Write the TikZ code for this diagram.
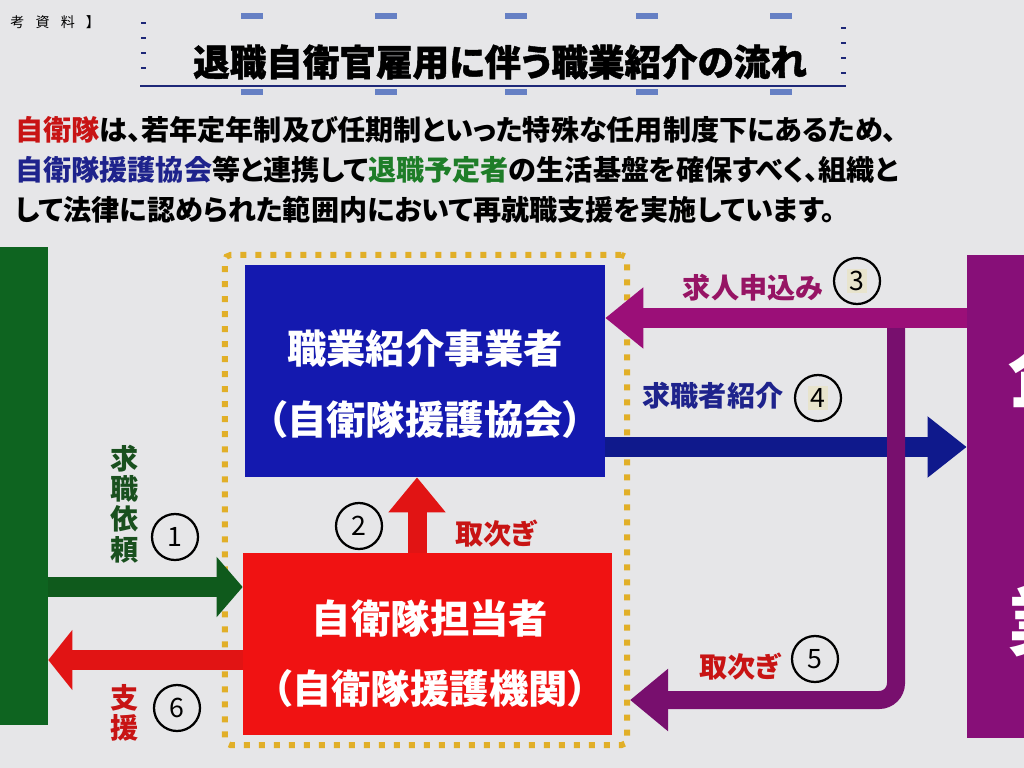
\documentclass[tikz,border=0pt]{standalone}
\usepackage{fontspec}
\setmainfont{Noto Sans CJK JP}[RawFeature=+palt]
\usetikzlibrary{arrows.meta, positioning, calc}

\definecolor{bg}{RGB}{230,230,232}
\definecolor{navy}{RGB}{30,40,120}
\definecolor{blob}{RGB}{60,95,185}
\definecolor{frameyellow}{RGB}{225,175,40}
\definecolor{boxblue}{RGB}{20,25,175}
\definecolor{boxred}{RGB}{240,18,18}
\definecolor{boxgreen}{RGB}{14,100,32}
\definecolor{boxpurple}{RGB}{135,15,120}
\definecolor{arrgreen}{RGB}{15,90,28}
\definecolor{arrred}{RGB}{225,20,20}
\definecolor{arrblue}{RGB}{15,25,140}
\definecolor{arrmagenta}{RGB}{155,15,120}
\definecolor{arrpurple}{RGB}{120,15,110}
\definecolor{txtred}{RGB}{200,20,20}
\definecolor{txtblue}{RGB}{30,35,140}
\definecolor{txtgreen}{RGB}{30,125,40}
\definecolor{lblgreen}{RGB}{25,80,30}
\definecolor{lblmagenta}{RGB}{150,20,100}
\definecolor{numtag}{RGB}{232,228,205}

\newcommand{\tagnum}[1]{{\setlength{\fboxsep}{1.5pt}\colorbox{numtag}{#1}}}

\begin{document}
\begin{tikzpicture}[x=0.025cm, y=-0.025cm,
  box/.style={rectangle, inner sep=0pt},
  boxtext/.style={text=white, align=center, font=\fontsize{28}{50}\selectfont\bfseries},
  arrow/.style={line width=0.5cm, -{Triangle[width=1.47cm,length=#1]}},
  arrow/.default=0.95cm,
  num/.style={circle, draw=black, line width=1.6pt, minimum size=1.15cm, inner sep=0pt, font=\fontsize{19}{19}\selectfont},
  lbl/.style={font=\fontsize{20}{21.5}\selectfont\bfseries, align=center},
  para/.style={anchor=west, inner sep=0pt, font=\fontsize{20}{20}\selectfont\bfseries}]

\useasboundingbox (0,0) rectangle (1024,768);
\fill[bg] (0,0) rectangle (1024,768);

% heading
\node[anchor=west, inner sep=0pt, font=\fontsize{10}{10}\selectfont] (ref) at (10,22) {考\hspace{8pt}資\hspace{8pt}料\hspace{8pt}】};
\node[font=\fontsize{26}{26}\selectfont\bfseries\addfontfeature{FakeBold=1.2}] (title) at (500,62) {退職自衛官雇用に伴う職業紹介の流れ};
\draw[navy, line width=2pt] (140,86) -- (846,86);
\foreach \x in {252,386,516,647,781} {
  \fill[blob, opacity=0.75] (\x-11,13) rectangle (\x+11,19);
  \fill[blob, opacity=0.75] (\x-11,89) rectangle (\x+11,95);
}
\foreach \y in {23,38,53,68} \fill[navy] (141,\y-1) rectangle (146,\y+1);
\foreach \y in {28,43,58,73} \fill[navy] (841,\y-1) rectangle (846,\y+1);

\node[para] (line1) at (15,130) {\textcolor{txtred}{自衛隊}は、若年定年制及び任期制といった特殊な任用制度下にあるため、};
\node[para] (line2) at (15,170) {\textcolor{txtblue}{自衛隊援護協会}等と連携して\textcolor{txtgreen}{退職予定者}の生活基盤を確保すべく、組織と};
\node[para] (line3) at (15,210) {して法律に認められた範囲内において再就職支援を実施しています。};

% boxes
\node[box, fill=boxgreen, minimum width=1.5cm, minimum height=11.95cm] (green) at (18,486) {};
\node[box, fill=boxpurple, minimum width=2.8cm, minimum height=12.08cm] (purple) at (1023,496.5) {};
\node[box, draw=frameyellow, line width=0.15cm, dash pattern=on 0.15cm off 0.225cm, rounded corners=4pt, minimum width=10.05cm, minimum height=12.25cm] (frame) at (426,500) {};
\node[box, fill=boxblue, minimum width=9cm, minimum height=5.3cm] (blue) at (425,371) {};
\node[box, fill=boxred, minimum width=9.225cm, minimum height=4.55cm] (red) at (427.5,644) {};

\node[boxtext] (bluetext) at (425,384) {職業紹介事業者\\（自衛隊援護協会）};
\node[boxtext] (redtext) at (430,654) {自衛隊担当者\\（自衛隊援護機関）};
\node[text=white, font=\fontsize{54}{54}\selectfont\bfseries] (kigyo1) at (1046,372) {企};
\node[text=white, font=\fontsize{54}{54}\selectfont\bfseries] (kigyo2) at (1046,622) {業};

% connectors
\coordinate (up) at (417,0);
\coordinate (split) at (896,318);
\draw[arrgreen, arrow=0.65cm] (green.east |- 0,587) -- (red.west |- 0,587);
\draw[arrred, arrow=0.6cm] (red.west |- 0,660) -- (green.east |- 0,660);
\draw[arrred, line width=0.475cm, -{Triangle[width=1.375cm,length=0.875cm]}] (red.north -| up) -- (blue.south -| up);
\draw[arrblue, arrow=0.98cm] (blue.east |- 0,447) -- (purple.west |- 0,447);
\draw[arrpurple, line width=0.45cm, rounded corners=12, -{Triangle[width=1.5cm,length=0.95cm]}] (split) -- (split |- 0,700) -- (frame.east |- 0,700);
\draw[arrmagenta, arrow] (purple.west |- split) -- (blue.east |- split);

% labels
\node[lbl, text=lblgreen] (l1) at (125,504) {求\\職\\依\\頼};
\node[num] (n1) at (175,537) {1};
\node[num] (n2) at (359,526) {2};
\node[lbl, text=txtred] (l2) at (496,534) {取次ぎ};
\node[lbl, text=lblmagenta] (l3) at (753,288) {求人申込み};
\node[num] (n3) at (857,281) {\tagnum{3}};
\node[lbl, text=txtblue] (l4) at (713,396) {求職者紹介};
\node[num] (n4) at (818,398) {\tagnum{4}};
\node[lbl, text=txtred] (l5) at (740,667) {取次ぎ};
\node[num] (n5) at (815,659) {5};
\node[lbl, text=txtred] (l6) at (125,713) {支\\援};
\node[num] (n6) at (177,708) {6};

\end{tikzpicture}
\end{document}
